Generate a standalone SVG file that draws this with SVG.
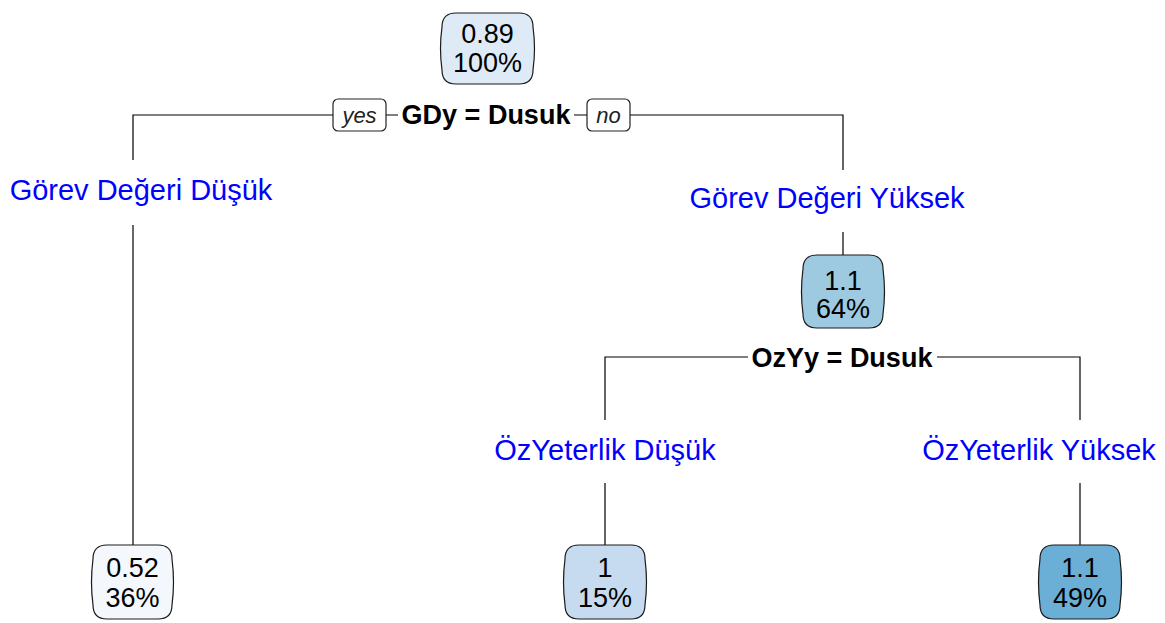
<svg xmlns="http://www.w3.org/2000/svg" width="1165" height="623" viewBox="0 0 1165 623">
<style>
.node{stroke:#1a1a1a;stroke-width:1.2}
.nt{font-family:"Liberation Sans",Arial,sans-serif;font-size:27px;fill:#000;text-anchor:middle}
.lab{font-family:"Liberation Sans",Arial,sans-serif;font-size:29px;fill:#0000ff;text-anchor:middle}
.split{font-family:"Liberation Sans",Arial,sans-serif;font-size:27px;font-weight:bold;fill:#000;text-anchor:middle}
.yn{font-family:"Liberation Sans",Arial,sans-serif;font-size:22px;font-style:italic;fill:#222;text-anchor:middle}
.ln{stroke:#000;stroke-width:1.2;fill:none}
.box{fill:#fff;stroke:#222;stroke-width:1.2}
</style>
<rect width="1165" height="623" fill="#fff"/>
<g id="connectors">
<path class="ln" d="M133,160 V115 H333 M386,115 H398 M574,115 H587 M630,115 H843 V170"/>
<path class="ln" d="M133,225 V545"/>
<path class="ln" d="M843,232 V255"/>
<path class="ln" d="M605,420 V357 H748 M937,357 H1080 V420"/>
<path class="ln" d="M605,483 V545 M1080,483 V545"/>
<rect class="box" x="333" y="99" width="53" height="32" rx="5"/>
<text class="yn" x="359.5" y="123">yes</text>
<rect class="box" x="587" y="99" width="43" height="32" rx="5"/>
<text class="yn" x="608.5" y="123">no</text>
<text class="split" x="486" y="124">GDy = Dusuk</text>
<text class="split" x="842" y="367">OzYy = Dusuk</text>
</g>
<g id="node-root">
<path class="node" fill="#deebf7" d="M456,13 H519 Q533,13 533,27 Q536,48.5 533,70 Q533,84 519,84 H456 Q442,84 442,70 Q439,48.5 442,27 Q442,13 456,13 Z"/>
<text class="nt" x="487.5" y="43">0.89</text>
<text class="nt" x="487.5" y="72">100%</text>
</g>
<g id="label-gdd"><text class="lab" x="141" y="200">Görev Değeri Düşük</text></g>
<g id="label-gdy"><text class="lab" x="827" y="208">Görev Değeri Yüksek</text></g>
<g id="node-64">
<path class="node" fill="#9ecae1" d="M817,255 H869 Q883,255 883,269 Q886,291.5 883,314 Q883,328 869,328 H817 Q803,328 803,314 Q800,291.5 803,269 Q803,255 817,255 Z"/>
<text class="nt" x="843" y="290">1.1</text>
<text class="nt" x="843" y="318">64%</text>
</g>
<g id="label-ozd"><text class="lab" x="605" y="460">ÖzYeterlik Düşük</text></g>
<g id="label-ozy"><text class="lab" x="1039" y="460">ÖzYeterlik Yüksek</text></g>
<g id="node-36">
<path class="node" fill="#f4f8fd" d="M107,545 H158 Q172,545 172,559 Q175,582 172,605 Q172,619 158,619 H107 Q93,619 93,605 Q90,582 93,559 Q93,545 107,545 Z"/>
<text class="nt" x="132.5" y="577">0.52</text>
<text class="nt" x="132.5" y="607">36%</text>
</g>
<g id="node-15">
<path class="node" fill="#c6dbef" d="M579,545 H631 Q645,545 645,559 Q648,582 645,605 Q645,619 631,619 H579 Q565,619 565,605 Q562,582 565,559 Q565,545 579,545 Z"/>
<text class="nt" x="605" y="577">1</text>
<text class="nt" x="605" y="607">15%</text>
</g>
<g id="node-49">
<path class="node" fill="#6baed6" d="M1054,545 H1106 Q1120,545 1120,559 Q1123,582 1120,605 Q1120,619 1106,619 H1054 Q1040,619 1040,605 Q1037,582 1040,559 Q1040,545 1054,545 Z"/>
<text class="nt" x="1080" y="577">1.1</text>
<text class="nt" x="1080" y="607">49%</text>
</g>
</svg>
